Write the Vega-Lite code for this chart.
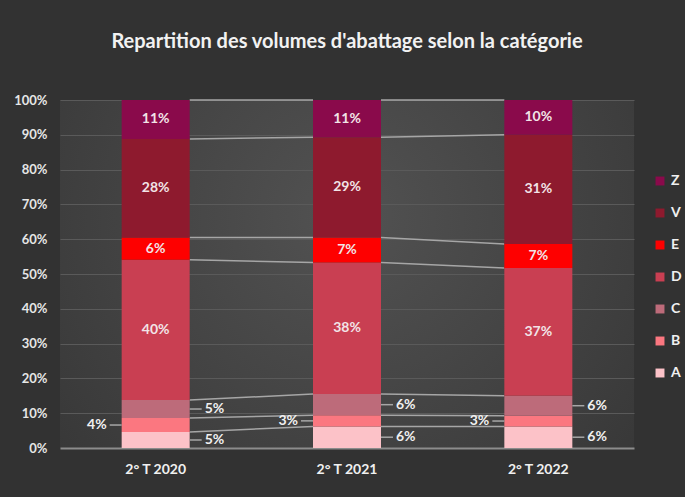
{
  "$schema": "https://vega.github.io/schema/vega-lite/v6.json",
  "width": 574,
  "height": 348,
  "autosize": {"type": "none"},
  "padding": {"left": 60, "top": 100, "right": 51, "bottom": 49},
  "background": "#323232",
  "title": {
    "text": "Repartition des volumes d'abattage selon la catégorie",
    "anchor": "middle",
    "frame": "group",
    "offset": 42,
    "font": "Lato",
    "fontSize": 20,
    "fontWeight": "bold",
    "color": "#f2f2f2"
  },
  "config": {
    "font": "Lato",
    "view": {
      "stroke": null,
      "fill": {
        "gradient": "radial",
        "x1": 0.5, "y1": 0.4, "r1": 0,
        "x2": 0.5, "y2": 0.4, "r2": 0.8,
        "stops": [
          {"offset": 0, "color": "#525252"},
          {"offset": 1, "color": "#323232"}
        ]
      }
    },
    "axisY": {
      "format": ".0%",
      "tickCount": 11,
      "domain": false,
      "ticks": false,
      "labelPadding": 13,
      "labelFont": "Lato",
      "labelFontSize": 13,
      "labelFontWeight": "bold",
      "labelColor": "#e6e6e6",
      "gridColor": {"condition": {"test": "datum.value === 0", "value": "#8c8c8c"}, "value": "#5a5a5a"},
      "gridWidth": {"condition": {"test": "datum.value === 0", "value": 2}, "value": 1}
    },
    "axisX": {
      "labelAngle": 0,
      "domain": false,
      "ticks": false,
      "grid": false,
      "labelPadding": 14,
      "labelFont": "Lato",
      "labelFontSize": 14,
      "labelFontWeight": "bold",
      "labelColor": "#f0f0f0"
    }
  },
  "data": {
    "values": [
      {"period": "2° T 2020", "cat": "A", "value": 0.046},
      {"period": "2° T 2020", "cat": "B", "value": 0.040},
      {"period": "2° T 2020", "cat": "C", "value": 0.052},
      {"period": "2° T 2020", "cat": "D", "value": 0.403},
      {"period": "2° T 2020", "cat": "E", "value": 0.064},
      {"period": "2° T 2020", "cat": "V", "value": 0.283},
      {"period": "2° T 2020", "cat": "Z", "value": 0.112},
      {"period": "2° T 2021", "cat": "A", "value": 0.062},
      {"period": "2° T 2021", "cat": "B", "value": 0.032},
      {"period": "2° T 2021", "cat": "C", "value": 0.061},
      {"period": "2° T 2021", "cat": "D", "value": 0.378},
      {"period": "2° T 2021", "cat": "E", "value": 0.072},
      {"period": "2° T 2021", "cat": "V", "value": 0.288},
      {"period": "2° T 2021", "cat": "Z", "value": 0.107},
      {"period": "2° T 2022", "cat": "A", "value": 0.062},
      {"period": "2° T 2022", "cat": "B", "value": 0.031},
      {"period": "2° T 2022", "cat": "C", "value": 0.057},
      {"period": "2° T 2022", "cat": "D", "value": 0.367},
      {"period": "2° T 2022", "cat": "E", "value": 0.069},
      {"period": "2° T 2022", "cat": "V", "value": 0.314},
      {"period": "2° T 2022", "cat": "Z", "value": 0.100}
    ]
  },
  "transform": [
    {"stack": "value", "groupby": ["period"], "sort": [{"field": "cat", "order": "ascending"}], "as": ["y0", "y1"]},
    {"calculate": "(datum.y0 + datum.y1) / 2", "as": "mid"}
  ],
  "encoding": {
    "x": {"field": "period", "type": "nominal", "title": null, "scale": {"paddingInner": 0, "paddingOuter": 0}}
  },
  "layer": [
    {
      "transform": [
        {"window": [{"op": "lead", "field": "y1", "as": "y1n"}, {"op": "lead", "field": "period", "as": "pn"}], "groupby": ["cat"], "sort": [{"field": "period", "order": "ascending"}]},
        {"filter": "datum.pn != null"}
      ],
      "mark": {"type": "rule", "color": "#a6a6a6", "strokeWidth": 1.5, "xOffset": 34, "x2Offset": -34},
      "encoding": {
        "x2": {"field": "pn"},
        "y": {"field": "y1", "type": "quantitative", "title": null},
        "y2": {"field": "y1n"}
      }
    },
    {
      "mark": {"type": "bar", "width": 68},
      "encoding": {
        "y": {"field": "y0", "type": "quantitative", "title": null, "scale": {"domain": [0, 1]}},
        "y2": {"field": "y1"},
        "color": {
          "field": "cat",
          "type": "nominal",
          "scale": {
            "domain": ["Z", "V", "E", "D", "C", "B", "A"],
            "range": ["#8a0a4b", "#8e1a2e", "#fe0000", "#c93f52", "#bd6b7a", "#fb7780", "#fcc2c8"]
          },
          "legend": {
            "orient": "none",
            "legendX": 593,
            "legendY": 74,
            "title": null,
            "symbolType": "square",
            "symbolSize": 80,
            "symbolStrokeWidth": 0,
            "labelFont": "Lato",
            "labelFontSize": 14,
            "labelFontWeight": "bold",
            "labelColor": "#f0f0f0",
            "labelOffset": 4,
            "rowPadding": 18
          }
        }
      }
    },
    {
      "transform": [{"filter": "indexof(['D','E','V','Z'], datum.cat) >= 0"}],
      "mark": {"type": "text", "font": "Lato", "fontSize": 14, "fontWeight": "bold", "color": "#f2e4e7", "baseline": "middle"},
      "encoding": {
        "y": {"field": "mid", "type": "quantitative", "title": null},
        "text": {"field": "value", "type": "quantitative", "format": ".0%"}
      }
    },
    {
      "transform": [{"filter": "datum.cat === 'B'"}],
      "mark": {"type": "rule", "color": "#a6a6a6", "strokeWidth": 1.5, "xOffset": -34, "x2Offset": -46},
      "encoding": {
        "x2": {"field": "period"},
        "y": {"field": "mid", "type": "quantitative", "title": null}
      }
    },
    {
      "transform": [{"filter": "datum.cat === 'B'"}],
      "mark": {"type": "text", "font": "Lato", "fontSize": 14, "fontWeight": "bold", "color": "#f0f0f0", "align": "right", "baseline": "middle", "dx": -49},
      "encoding": {
        "y": {"field": "mid", "type": "quantitative", "title": null},
        "text": {"field": "value", "type": "quantitative", "format": ".0%"}
      }
    },
    {
      "transform": [{"filter": "datum.cat === 'A' || datum.cat === 'C'"}],
      "mark": {"type": "rule", "color": "#a6a6a6", "strokeWidth": 1.5, "xOffset": 34, "x2Offset": 46},
      "encoding": {
        "x2": {"field": "period"},
        "y": {"field": "mid", "type": "quantitative", "title": null}
      }
    },
    {
      "transform": [{"filter": "datum.cat === 'A' || datum.cat === 'C'"}],
      "mark": {"type": "text", "font": "Lato", "fontSize": 14, "fontWeight": "bold", "color": "#f0f0f0", "align": "left", "baseline": "middle", "dx": 49},
      "encoding": {
        "y": {"field": "mid", "type": "quantitative", "title": null},
        "text": {"field": "value", "type": "quantitative", "format": ".0%"}
      }
    }
  ]
}
